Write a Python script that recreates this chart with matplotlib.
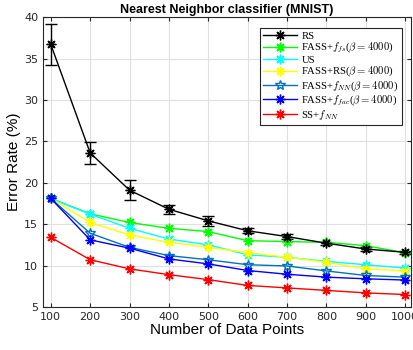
import matplotlib
matplotlib.use('Agg')
import matplotlib.pyplot as plt
import numpy as np

plt.rcParams['mathtext.fontset'] = 'cm'

# Data
n_points = [100, 200, 300, 400, 500, 600, 700, 800, 900, 1000]

rs = [36.7, 23.6, 19.1, 16.8, 15.4, 14.2, 13.5, 12.7, 12.0, 11.6]
rs_err = [2.5, 1.3, 1.2, 0.55, 0.6, 0.3, 0.3, 0.2, 0.3, 0.2]
fass_fs = [18.1, 16.25, 15.2, 14.5, 14.1, 13.0, 12.9, 12.8, 12.4, 11.55]
us = [18.1, 16.2, 14.5, 13.2, 12.5, 11.3, 11.0, 10.5, 10.1, 9.7]
fass_rs = [18.1, 15.2, 13.7, 12.8, 12.2, 11.55, 11.0, 10.4, 9.6, 9.35]
fass_nn = [18.1, 13.9, 12.2, 11.2, 10.7, 10.1, 9.95, 9.35, 8.8, 8.6]
fass_fac = [18.1, 13.1, 12.1, 10.8, 10.2, 9.4, 8.95, 8.6, 8.4, 8.25]
ss_nn = [13.4, 10.7, 9.6, 8.9, 8.3, 7.6, 7.3, 7.0, 6.7, 6.5]

labels = ['RS',
          r'FASS+$f_{fs}$($\beta=4000$)',
          'US',
          r'FASS+RS($\beta=4000$)',
          r'FASS+$f_{NN}$($\beta=4000$)',
          r'FASS+$f_{fac}$($\beta=4000$)',
          r'SS+$f_{NN}$']

ast = (8, 2, 0)  # MATLAB-like asterisk marker

fig = plt.figure(figsize=(4.13, 3.5), dpi=100)
ax = fig.add_axes([0.104, 0.123, 0.891, 0.828])

h = []
eb = ax.errorbar(n_points, rs, yerr=rs_err, color='k', marker=ast, ms=7, lw=1,
                 capsize=4, elinewidth=1)
h.append(eb.lines[0])
h += ax.plot(n_points, fass_fs, color='#00ff00', marker=ast, ms=7, lw=1)
h += ax.plot(n_points, us, color='#00ffff', marker=ast, ms=7, lw=1)
h += ax.plot(n_points, fass_rs, color='#ffff00', marker=ast, ms=7, lw=1)
h += ax.plot(n_points, fass_nn, color='#0072bd', marker='*', mfc='none', ms=7, lw=1)
h += ax.plot(n_points, fass_fac, color='#0000ff', marker=ast, ms=7, lw=1)
h += ax.plot(n_points, ss_nn, color='#ff0000', marker=ast, ms=7, lw=1)

ax.set_xlim(80, 1015)
ax.set_ylim(5, 40)
ax.set_xticks(n_points)
ax.set_yticks(np.arange(5, 41, 5))
ax.grid(True, color='#e0e0e0', lw=0.8)
ax.set_axisbelow(True)
ax.tick_params(direction='in', top=True, right=True, labelsize=8, colors='#262626',
               length=3)
for s in ax.spines.values():
    s.set_color('#262626')

ax.set_title('Nearest Neighbor classifier (MNIST)', fontsize=9, fontweight='bold',
             family='Liberation Sans', pad=3)
ax.set_xlabel('Number of Data Points', fontsize=11, family='Liberation Sans', labelpad=1)
ax.set_ylabel('Error Rate (%)', fontsize=11, family='Liberation Sans', labelpad=2)

leg = ax.legend(h, labels, loc='upper right',
                prop={'family': 'Liberation Serif', 'size': 7.7},
                fancybox=False, edgecolor='#262626', framealpha=1, handlelength=3.2,
                borderpad=0.3, labelspacing=0.0, handletextpad=0.4,
                bbox_to_anchor=(0.99, 0.98))
leg.get_frame().set_linewidth(0.8)

fig.savefig('out.png', dpi=100)
